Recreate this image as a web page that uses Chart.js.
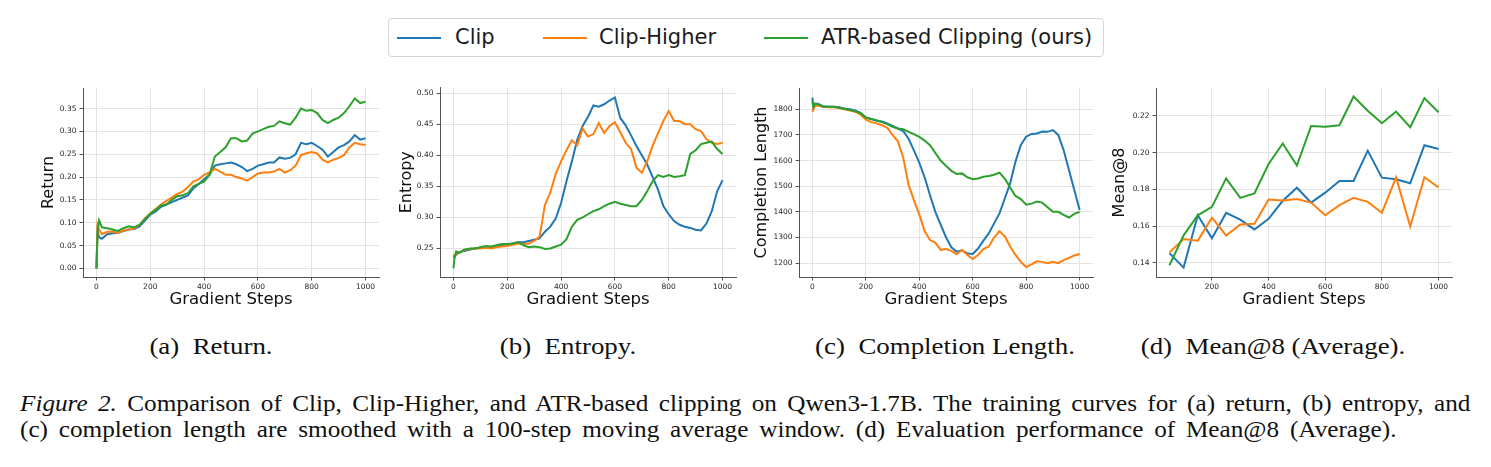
<!DOCTYPE html>
<html>
<head>
<meta charset="utf-8">
<script src="https://cdn.jsdelivr.net/npm/chart.js@4.4.1/dist/chart.umd.min.js"></script>
<style>
    body { margin: 0; width: 1491px; height: 467px; background: #fff; position: relative; overflow: hidden; font-family: "DejaVu Sans", sans-serif; }
    canvas.panel { position: absolute; top: 80px; }
    #legend { position: absolute; left: 388px; top: 18px; width: 716px; height: 39px; border: 1px solid #d4d4d4; border-radius: 4px; box-sizing: border-box; font-size: 21px; color: #1a1a1a; }
    #legend .sw { position: absolute; top: 18px; width: 44px; height: 2px; }
    #legend .lb { position: absolute; top: 5px; line-height: 26px; white-space: nowrap; }
    .sub { position: absolute; top: 331px; font-family: "Liberation Serif", serif; font-size: 24px; line-height: 30px; transform: translateX(-50%) scaleX(1.12); white-space: nowrap; color: #111; }
    .cap { position: absolute; left: 20px; font-family: "Liberation Serif", serif; font-size: 22.5px; line-height: 26px; text-align: justify; text-align-last: justify; white-space: nowrap; color: #111; transform: scaleX(1.12); transform-origin: 0 0; }
</style>
</head>
<body>
<div id="legend">
    <div class="sw" style="left:8px;background:#1f77b4"></div><div class="lb" style="left:66px">Clip</div>
    <div class="sw" style="left:154px;background:#ff7f0e"></div><div class="lb" style="left:210px">Clip-Higher</div>
    <div class="sw" style="left:375px;background:#2ca02c"></div><div class="lb" style="left:432px">ATR-based Clipping (ours)</div>
</div>

<canvas class="panel" id="chartReturn" width="343" height="230" style="left:39px"></canvas>
<canvas class="panel" id="chartEntropy" width="342" height="230" style="left:397px"></canvas>
<canvas class="panel" id="chartLength" width="344" height="230" style="left:752px"></canvas>
<canvas class="panel" id="chartMean" width="345" height="230" style="left:1110px"></canvas>

<div class="sub" style="left:211px">(a)&nbsp; Return.</div>
<div class="sub" style="left:568px">(b)&nbsp; Entropy.</div>
<div class="sub" style="left:945px">(c)&nbsp; Completion Length.</div>
<div class="sub" style="left:1273px">(d)&nbsp; Mean@8 (Average).</div>

<div class="cap" style="top:391px;width:1295px"><i>Figure 2.</i> Comparison of Clip, Clip-Higher, and ATR-based clipping on Qwen3-1.7B. The training curves for (a) return, (b) entropy, and</div>
<div class="cap" style="top:417px;width:1229px">(c) completion length are smoothed with a 100-step moving average window. (d) Evaluation performance of Mean@8 (Average).</div>

<script>
// training steps shared by panels (a)-(c)
const trainSteps = [0, 4, 10, 20, 40, 60, 80, 100, 120, 140, 160, 180, 200, 220, 240, 260, 280, 300, 320, 340, 360, 380, 400, 420, 440, 460, 480, 500, 520, 540, 560, 580, 600, 620, 640, 660, 680, 700, 720, 740, 760, 780, 800, 820, 840, 860, 880, 900, 920, 940, 960, 980, 1000];

// (a) Return
const returnClip = [0.0, 0.082, 0.068, 0.065, 0.075, 0.077, 0.078, 0.082, 0.085, 0.086, 0.092, 0.105, 0.118, 0.125, 0.135, 0.14, 0.145, 0.15, 0.155, 0.16, 0.175, 0.185, 0.195, 0.205, 0.225, 0.228, 0.23, 0.232, 0.228, 0.222, 0.213, 0.218, 0.225, 0.228, 0.232, 0.232, 0.243, 0.24, 0.242, 0.25, 0.275, 0.272, 0.275, 0.268, 0.26, 0.245, 0.255, 0.265, 0.27, 0.278, 0.292, 0.282, 0.285];
const returnHigher = [0.0, 0.095, 0.085, 0.075, 0.08, 0.08, 0.078, 0.083, 0.085, 0.088, 0.095, 0.11, 0.12, 0.13, 0.14, 0.148, 0.155, 0.163, 0.168, 0.178, 0.19, 0.195, 0.205, 0.21, 0.218, 0.212, 0.205, 0.205, 0.2, 0.197, 0.192, 0.2, 0.208, 0.21, 0.21, 0.212, 0.218, 0.21, 0.215, 0.225, 0.248, 0.252, 0.255, 0.252, 0.238, 0.232, 0.238, 0.242, 0.248, 0.265, 0.275, 0.272, 0.27];
const returnATR = [0.0, 0.08, 0.105, 0.09, 0.088, 0.085, 0.082, 0.088, 0.092, 0.09, 0.095, 0.108, 0.12, 0.128, 0.138, 0.14, 0.15, 0.158, 0.16, 0.165, 0.18, 0.185, 0.19, 0.205, 0.245, 0.255, 0.265, 0.285, 0.285, 0.278, 0.28, 0.295, 0.3, 0.305, 0.31, 0.312, 0.322, 0.318, 0.315, 0.33, 0.35, 0.345, 0.347, 0.34, 0.325, 0.318, 0.325, 0.33, 0.34, 0.355, 0.372, 0.362, 0.365];

// (b) Entropy
const entropyClip = [0.235, 0.238, 0.24, 0.243, 0.246, 0.248, 0.25, 0.251, 0.252, 0.252, 0.254, 0.255, 0.256, 0.258, 0.26, 0.26, 0.262, 0.264, 0.266, 0.277, 0.285, 0.298, 0.323, 0.358, 0.39, 0.425, 0.447, 0.462, 0.48, 0.478, 0.482, 0.488, 0.493, 0.46, 0.448, 0.432, 0.415, 0.4, 0.385, 0.365, 0.345, 0.318, 0.305, 0.294, 0.288, 0.285, 0.283, 0.28, 0.279, 0.29, 0.31, 0.342, 0.36];
const entropyHigher = [0.24, 0.235, 0.242, 0.243, 0.247, 0.249, 0.25, 0.25, 0.251, 0.25, 0.252, 0.253, 0.254, 0.256, 0.258, 0.257, 0.258, 0.262, 0.269, 0.32, 0.34, 0.37, 0.39, 0.408, 0.424, 0.416, 0.443, 0.43, 0.434, 0.452, 0.436, 0.447, 0.453, 0.437, 0.42, 0.41, 0.38, 0.372, 0.39, 0.415, 0.435, 0.455, 0.471, 0.455, 0.455, 0.45, 0.45, 0.442, 0.439, 0.426, 0.42, 0.418, 0.42];
const entropyATR = [0.218, 0.235, 0.245, 0.243, 0.248, 0.25, 0.25, 0.252, 0.254, 0.253, 0.255, 0.257, 0.257, 0.258, 0.26, 0.255, 0.252, 0.253, 0.252, 0.249, 0.25, 0.253, 0.256, 0.265, 0.285, 0.296, 0.3, 0.305, 0.31, 0.313, 0.318, 0.322, 0.325, 0.322, 0.32, 0.318, 0.318, 0.328, 0.342, 0.358, 0.368, 0.365, 0.368, 0.365, 0.366, 0.368, 0.402, 0.408, 0.418, 0.42, 0.422, 0.41, 0.402];

// (c) Completion Length
const lengthClip = [1845, 1812, 1822, 1822, 1812, 1810, 1810, 1808, 1803, 1800, 1795, 1786, 1768, 1762, 1755, 1752, 1745, 1735, 1725, 1715, 1685, 1640, 1592, 1535, 1466, 1400, 1350, 1301, 1262, 1245, 1250, 1238, 1236, 1257, 1288, 1316, 1355, 1394, 1452, 1511, 1596, 1661, 1693, 1704, 1706, 1713, 1712, 1719, 1700, 1641, 1563, 1485, 1407];
const lengthHigher = [1790, 1800, 1812, 1815, 1810, 1808, 1808, 1805, 1800, 1795, 1790, 1780, 1760, 1750, 1745, 1738, 1728, 1700, 1675, 1612, 1505, 1446, 1390, 1325, 1290, 1280, 1252, 1255, 1248, 1235, 1252, 1232, 1216, 1232, 1255, 1265, 1300, 1325, 1305, 1265, 1232, 1205, 1185, 1195, 1207, 1205, 1200, 1205, 1200, 1212, 1220, 1230, 1236];
const lengthATR = [1830, 1808, 1822, 1820, 1810, 1810, 1810, 1806, 1801, 1798, 1792, 1785, 1768, 1762, 1757, 1750, 1742, 1732, 1725, 1722, 1712, 1703, 1692, 1678, 1660, 1630, 1600, 1580, 1560, 1548, 1550, 1535, 1527, 1530, 1537, 1540, 1545, 1553, 1530, 1495, 1462, 1450, 1428, 1432, 1440, 1436, 1418, 1400, 1400, 1388, 1378, 1392, 1400];

// (d) Mean@8 evaluation
const evalSteps = [50, 100, 150, 200, 250, 300, 350, 400, 450, 500, 550, 600, 650, 700, 750, 800, 850, 900, 950, 1000];
const meanClip = [0.1453, 0.1374, 0.1659, 0.1534, 0.1672, 0.1635, 0.1582, 0.164, 0.1738, 0.1809, 0.1728, 0.1782, 0.1846, 0.1846, 0.2011, 0.1864, 0.1855, 0.1833, 0.204, 0.202];
const meanHigher = [0.1457, 0.153, 0.1521, 0.1646, 0.1549, 0.1609, 0.1613, 0.1745, 0.1739, 0.1747, 0.1728, 0.1659, 0.1714, 0.1754, 0.1732, 0.1673, 0.1866, 0.1598, 0.1866, 0.1811];
const meanATR = [0.1387, 0.155, 0.1659, 0.1705, 0.186, 0.1754, 0.1778, 0.1938, 0.205, 0.193, 0.2145, 0.2141, 0.2149, 0.2306, 0.2228, 0.216, 0.2224, 0.2139, 0.2297, 0.222];

// tick labels
const trainTicks = [0, 200, 400, 600, 800, 1000];
const evalTicks = [200, 400, 600, 800, 1000];
const returnTicks = [0, 0.05, 0.10, 0.15, 0.20, 0.25, 0.30, 0.35];
const entropyTicks = [0.25, 0.30, 0.35, 0.40, 0.45, 0.50];
const lengthTicks = [1200, 1300, 1400, 1500, 1600, 1700, 1800];
const meanTicks = [0.14, 0.16, 0.18, 0.20, 0.22];

const COLORS = { clip: '#1f77b4', higher: '#ff7f0e', atr: '#2ca02c' };
const GRID = '#e3e3e3';
const SPINE = '#555555';

const toPoints = (xs, ys) => xs.map((x, i) => ({ x, y: ys[i] }));

const makeLines = (xs, clip, higher, atr) => [
    { label: 'Clip', data: toPoints(xs, clip), borderColor: COLORS.clip, order: 3 },
    { label: 'Clip-Higher', data: toPoints(xs, higher), borderColor: COLORS.higher, order: 2 },
    { label: 'ATR-based Clipping (ours)', data: toPoints(xs, atr), borderColor: COLORS.atr, order: 1 }
].map(ds => Object.assign(ds, { borderWidth: 2, pointRadius: 0, tension: 0, fill: false }));

const makePanel = (id, datasets, opts) => {
    const ctx = document.getElementById(id);
    return new Chart(ctx, {
        type: 'line',
        data: { datasets },
        options: {
            responsive: false,
            animation: false,
            devicePixelRatio: 1,
            layout: { padding: { top: opts.padTop, right: 3, left: 0, bottom: 0 } },
            plugins: { legend: { display: false }, tooltip: { enabled: false } },
            scales: {
                x: {
                    type: 'linear',
                    min: opts.xMin, max: opts.xMax,
                    afterBuildTicks: s => { s.ticks = opts.xTicks.map(v => ({ value: v })); },
                    afterFit: s => { s.height = 33; },
                    grid: { color: GRID, lineWidth: 1, tickColor: SPINE, tickLength: 3.5 },
                    border: { color: SPINE, width: 1 },
                    ticks: { color: '#262626', font: { family: 'DejaVu Sans', size: 7.5 }, padding: 2, maxRotation: 0, callback: v => String(v) },
                    title: { display: true, text: 'Gradient Steps', color: '#111', font: { family: 'DejaVu Sans', size: 16.5, lineHeight: 1.2 }, padding: 0 }
                },
                y: {
                    min: opts.yMin, max: opts.yMax,
                    afterBuildTicks: s => { s.ticks = opts.yTicks.map(v => ({ value: v })); },
                    afterFit: s => { s.width = opts.yWidth; },
                    grid: { color: GRID, lineWidth: 1, tickColor: SPINE, tickLength: 3.5 },
                    border: { color: SPINE, width: 1 },
                    ticks: { color: '#262626', font: { family: 'DejaVu Sans', size: 7.5 }, padding: 3, callback: opts.fmt },
                    title: { display: true, text: opts.yTitle, color: '#111', font: { family: 'DejaVu Sans', size: 16, lineHeight: 1.2 }, padding: 0 }
                }
            }
        }
    });
};

makePanel('chartReturn', makeLines(trainSteps, returnClip, returnHigher, returnATR), {
    xMin: -50, xMax: 1050, xTicks: trainTicks,
    yMin: -0.0188, yMax: 0.395, yTicks: returnTicks, yWidth: 44, padTop: 8,
    yTitle: 'Return', fmt: v => v.toFixed(2)
});

makePanel('chartEntropy', makeLines(trainSteps, entropyClip, entropyHigher, entropyATR), {
    xMin: -50, xMax: 1050, xTicks: trainTicks,
    yMin: 0.204, yMax: 0.509, yTicks: entropyTicks, yWidth: 43, padTop: 7,
    yTitle: 'Entropy', fmt: v => v.toFixed(2)
});

makePanel('chartLength', makeLines(trainSteps, lengthClip, lengthHigher, lengthATR), {
    xMin: -50, xMax: 1050, xTicks: trainTicks,
    yMin: 1146, yMax: 1883, yTicks: lengthTicks, yWidth: 47, padTop: 8,
    yTitle: 'Completion Length', fmt: v => String(Math.round(v))
});

makePanel('chartMean', makeLines(evalSteps, meanClip, meanHigher, meanATR), {
    xMin: 2.5, xMax: 1047.5, xTicks: evalTicks,
    yMin: 0.1323, yMax: 0.2352, yTicks: meanTicks, yWidth: 46, padTop: 8,
    yTitle: 'Mean@8', fmt: v => v.toFixed(2)
});
</script>
</body>
</html>
